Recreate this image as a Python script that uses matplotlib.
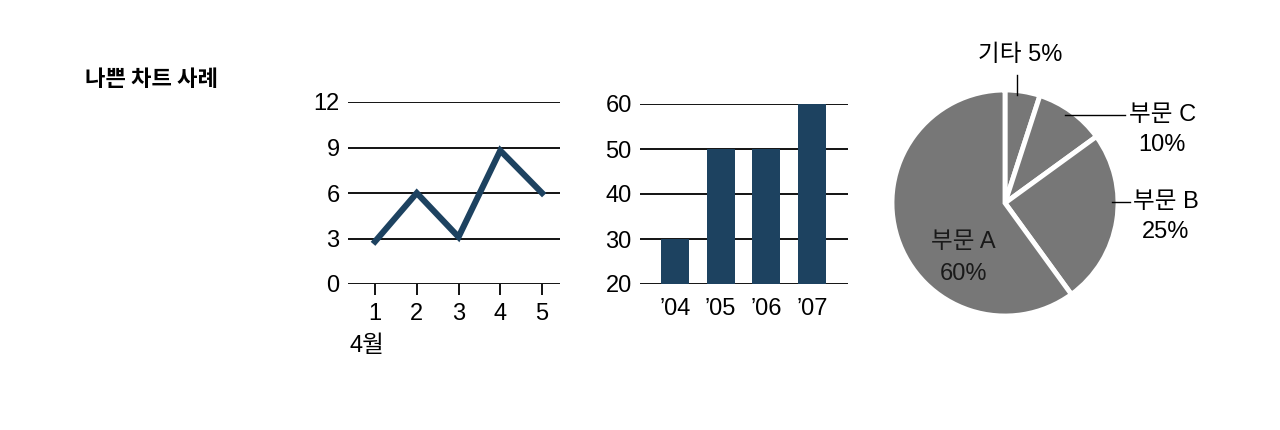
import matplotlib.pyplot as plt

plt.rcParams['font.family'] = ['Liberation Sans', 'Noto Sans CJK KR', 'DejaVu Sans']

# ---- data ----
line_x = [1, 2, 3, 4, 5]
line_y = [2.8, 6.0, 3.1, 8.8, 6.0]
line_yticks = [0, 3, 6, 9, 12]

bar_labels = ["’04", "’05", "’06", "’07"]
bar_values = [30, 50, 50, 60]
bar_yticks = [20, 30, 40, 50, 60]

pie_labels = ["기타", "부문 C", "부문 B", "부문 A"]
pie_values = [5, 10, 25, 60]

navy = "#1d4260"
grey = "#777777"
fs = 17

fig = plt.figure(figsize=(12.8, 4.3), dpi=100)
fig.text(85 / 1280, 1 - 80 / 430, "나쁜 차트 사례", fontsize=16, fontweight="bold",
         va="center", ha="left", family=['Noto Sans CJK KR'])

# ---- line chart ----
ax1 = fig.add_axes([348 / 1280, 1 - 284 / 430, 212 / 1280, 182 / 430])
for v in line_yticks:
    ax1.axhline(v, color="black", lw=1.3, zorder=1)
ax1.plot(line_x, line_y, color=navy, lw=4.4, solid_joinstyle="miter", zorder=3)
ax1.set_xlim(0.353, 5.43)
ax1.set_ylim(0, 12)
ax1.set_yticks(line_yticks)
ax1.set_xticks(line_x)
ax1.tick_params(axis="y", length=0, pad=6, labelsize=fs)
ax1.tick_params(axis="x", length=8, width=1.3, pad=6, labelsize=fs)
for s in ax1.spines.values():
    s.set_visible(False)
ax1.set_facecolor("none")
fig.text(350 / 1280, 1 - 346 / 430, "4월", fontsize=fs, va="center", ha="left")

# ---- bar chart ----
ax2 = fig.add_axes([640 / 1280, 1 - 284 / 430, 208 / 1280, 180 / 430])
for v in bar_yticks:
    ax2.axhline(v, color="black", lw=1.3, zorder=1)
xs = range(len(bar_values))
ax2.bar(xs, [v - 20 for v in bar_values], bottom=20, width=0.61, color=navy, zorder=2)
ax2.set_xlim(-0.76, 3.78)
ax2.set_ylim(20, 60)
ax2.set_yticks(bar_yticks)
ax2.set_xticks(list(xs))
ax2.set_xticklabels(bar_labels)
ax2.tick_params(axis="y", length=0, pad=6, labelsize=fs)
ax2.tick_params(axis="x", length=0, pad=10, labelsize=fs)
for s in ax2.spines.values():
    s.set_visible(False)
ax2.set_facecolor("none")

# ---- pie chart ----
ax3 = fig.add_axes([855 / 1280, 1 - 353 / 430, 300 / 1280, 300 / 430])
ax3.pie(pie_values, startangle=90, counterclock=False, colors=[grey] * 4,
        wedgeprops=dict(edgecolor="white", linewidth=3.5))
lim = 150 / 113
ax3.set_xlim(-lim, lim)
ax3.set_ylim(-lim, lim)
ax3.axis("off")

ax3.text(0.13, 1.31, f"{pie_labels[0]} {pie_values[0]}%", fontsize=fs, ha="center", va="center")
ax3.plot([0.106, 0.106], [1.13, 0.96], color="black", lw=1)
ax3.text(1.39, 0.646, f"{pie_labels[1]}\n{pie_values[1]}%", fontsize=fs, ha="center",
         va="center", linespacing=1.45)
ax3.plot([0.53, 1.06], [0.78, 0.78], color="black", lw=1)
ax3.text(1.425, -0.124, f"{pie_labels[2]}\n{pie_values[2]}%", fontsize=fs, ha="center",
         va="center", linespacing=1.45)
ax3.plot([0.947, 1.106], [0.009, 0.009], color="black", lw=1)
ax3.text(-0.365, -0.49, f"{pie_labels[3]}\n{pie_values[3]}%", fontsize=fs, ha="center",
         va="center", linespacing=1.6, color="#1a1a1a")

fig.savefig("out.png", dpi=100)
